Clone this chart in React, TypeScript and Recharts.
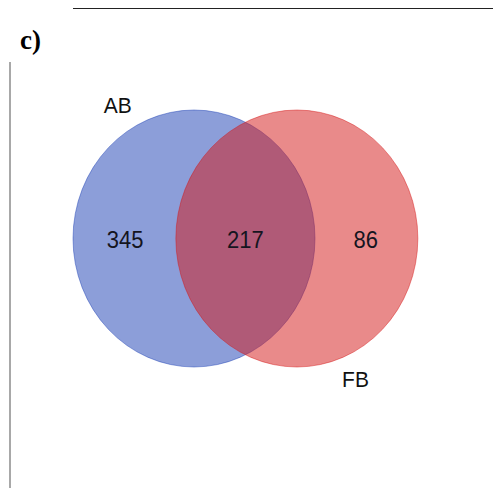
import { Scatter, ScatterChart, XAxis, YAxis } from "recharts";

// two sets, and the counts in each region (AB only, shared, FB only)
const setNames = ["AB", "FB"];
const regionCounts = [345, 217, 86];

const W = 493;
const H = 488;
// one unit = one circle radius; the source picture is slightly stretched vertically
const UNIT_X = 121;
const UNIT_Y = 128.5;
const CENTER_GAP = 0.85;
const X_DOMAIN: [number, number] = [-1.5, 2.4];
const Y_DOMAIN: [number, number] = [-1.5, 1.5];
const MARGIN = {
  left: 194 - UNIT_X * 1.5,
  right: W - (194 - UNIT_X * 1.5) - UNIT_X * 3.9,
  top: 238.5 - UNIT_Y * 1.5,
  bottom: H - (238.5 - UNIT_Y * 1.5) - UNIT_Y * 3,
};

const SET_COLORS = ["#1a3db3", "#d41515"];
const FONT = "'Liberation Sans', Arial, Helvetica, sans-serif";

const circleData = setNames.map((name, i) => ({ name, x: i * CENTER_GAP, y: 0, color: SET_COLORS[i] }));
const regionX = [-0.57, CENTER_GAP / 2, CENTER_GAP + 0.57];
const regionData = regionCounts.map((count, i) => ({ count, x: regionX[i], y: -0.01 }));
const nameData = [
  { name: setNames[0], x: -0.63, y: 1.04 },
  { name: setNames[1], x: CENTER_GAP + 0.485, y: -1.095 },
];

const CircleShape = (props: any) => {
  const { cx, cy, payload } = props;
  return (
    <ellipse
      cx={cx}
      cy={cy}
      rx={UNIT_X}
      ry={UNIT_Y}
      fill={payload.color}
      fillOpacity={0.5}
      stroke={payload.color}
      strokeOpacity={0.45}
      strokeWidth={1}
    />
  );
};

const CountShape = (props: any) => (
  <text
    x={props.cx}
    y={props.cy}
    textAnchor="middle"
    dominantBaseline="central"
    fontFamily={FONT}
    fontSize={22}
    fill="#15151f"
    transform={`translate(0 ${props.cy}) scale(1 1.12) translate(0 ${-props.cy})`}
  >
    {props.payload.count}
  </text>
);

const NameShape = (props: any) => (
  <text
    x={props.cx}
    y={props.cy}
    textAnchor="middle"
    dominantBaseline="central"
    fontFamily={FONT}
    fontSize={21}
    fill="#111"
    transform={`translate(0 ${props.cy}) scale(1 1.08) translate(0 ${-props.cy})`}
  >
    {props.payload.name}
  </text>
);

export default function App() {
  return (
    <div style={{ position: "relative", width: W, height: H, background: "#fff", overflow: "hidden" }}>
      <style>{`body{margin:0}`}</style>
      <div style={{ position: "absolute", left: 73, top: 8, width: W - 73, height: 1, background: "#222" }} />
      <div
        style={{
          position: "absolute",
          left: 20,
          top: 24,
          fontFamily: "'Liberation Serif', 'Times New Roman', serif",
          fontWeight: "bold",
          fontSize: 27,
          lineHeight: "32px",
          color: "#000",
        }}
      >
        c)
      </div>
      <div style={{ position: "absolute", left: 9, top: 62, width: 2, height: H - 62, background: "#a8a8a8" }} />
      <div style={{ position: "absolute", left: 0, top: 0 }}>
        <ScatterChart width={W} height={H} margin={MARGIN}>
          <XAxis type="number" dataKey="x" domain={X_DOMAIN} hide allowDataOverflow />
          <YAxis type="number" dataKey="y" domain={Y_DOMAIN} hide allowDataOverflow />
          <Scatter data={circleData} shape={CircleShape} isAnimationActive={false} />
          <Scatter data={regionData} shape={CountShape} isAnimationActive={false} />
          <Scatter data={nameData} shape={NameShape} isAnimationActive={false} />
        </ScatterChart>
      </div>
    </div>
  );
}
